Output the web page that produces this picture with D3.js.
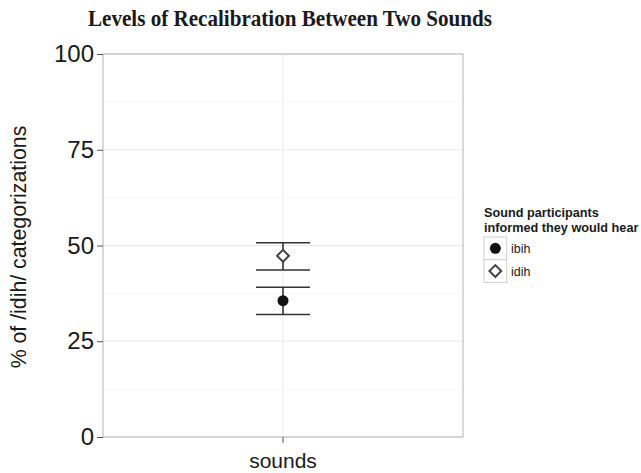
<!DOCTYPE html>
<html>
<head>
<meta charset="utf-8">
<script src="https://cdn.jsdelivr.net/npm/d3@7"></script>
<style>
  body { margin: 0; background: #fff; }
  svg { display: block; }
</style>
</head>
<body>
<script>
// DATA
var categories = ["sounds"];
var groups = ["ibih", "idih"];
var means = [35.6, 47.3];
var lower = [32.0, 43.6];
var upper = [39.1, 50.7];
var yTicks = [0, 25, 50, 75, 100];

var svg = d3.select("body").append("svg")
    .attr("width", 641)
    .attr("height", 473);

const margin = {top: 54, left: 103, right: 178, bottom: 36};
const width = 641 - margin.left - margin.right;
const height = 473 - margin.top - margin.bottom;

const x = d3.scaleBand().domain(categories).range([0, width]);
const y = d3.scaleLinear().domain([0, 100]).range([height, 0]);

const g = svg.append("g")
    .attr("transform", "translate(" + margin.left + "," + margin.top + ")");

// grid (minor then major)
const minor = [12.5, 37.5, 62.5, 87.5];
g.selectAll(".minor").data(minor).enter().append("line")
    .attr("x1", 0).attr("x2", width)
    .attr("y1", d => y(d)).attr("y2", d => y(d))
    .attr("stroke", "#f5f5f5").attr("stroke-width", 0.8);
g.selectAll(".major").data(yTicks).enter().append("line")
    .attr("x1", 0).attr("x2", width)
    .attr("y1", d => y(d)).attr("y2", d => y(d))
    .attr("stroke", "#ebebeb").attr("stroke-width", 1);
g.selectAll(".vmajor").data(categories).enter().append("line")
    .attr("x1", d => x(d) + x.bandwidth() / 2).attr("x2", d => x(d) + x.bandwidth() / 2)
    .attr("y1", 0).attr("y2", height)
    .attr("stroke", "#ebebeb").attr("stroke-width", 1);

// panel border
g.append("rect").attr("width", width).attr("height", height)
    .attr("fill", "none").attr("stroke", "#b3b3b3").attr("stroke-width", 1);

// axes
const yAxis = g.append("g").call(d3.axisLeft(y).tickValues(yTicks).tickSize(6).tickPadding(3));
yAxis.select(".domain").remove();
yAxis.selectAll("line").attr("stroke", "#555");
yAxis.selectAll("text").attr("font-family", "Liberation Sans, Arial, sans-serif")
    .attr("font-size", 24).attr("fill", "#1a1a1a");

const xAxis = g.append("g").attr("transform", "translate(0," + height + ")")
    .call(d3.axisBottom(x).tickSize(6).tickFormat(""));
xAxis.select(".domain").remove();
xAxis.selectAll("line").attr("stroke", "#555");

// error bars
const cx = x("sounds") + x.bandwidth() / 2;
const capW = 27;
groups.forEach(function(grp, i) {
  g.append("line").attr("x1", cx).attr("x2", cx)
      .attr("y1", y(lower[i])).attr("y2", y(upper[i]))
      .attr("stroke", "#333").attr("stroke-width", 1.6);
  [lower[i], upper[i]].forEach(function(v) {
    g.append("line").attr("x1", cx - capW).attr("x2", cx + capW)
        .attr("y1", y(v)).attr("y2", y(v))
        .attr("stroke", "#333").attr("stroke-width", 1.6);
  });
});

function drawSymbol(sel, grp, px, py) {
  if (grp === "ibih") {
    sel.append("circle").attr("cx", px).attr("cy", py).attr("r", 5.5).attr("fill", "#111");
  } else {
    sel.append("path")
        .attr("d", d3.symbol().type(d3.symbolSquare).size(70)())
        .attr("transform", "translate(" + px + "," + py + ") rotate(45)")
        .attr("fill", "#fff").attr("stroke", "#444").attr("stroke-width", 2);
  }
}
groups.forEach(function(grp, i) { drawSymbol(g, grp, cx, y(means[i])); });

// x label
svg.append("text").attr("x", margin.left + width / 2).attr("y", 468)
    .attr("text-anchor", "middle")
    .attr("font-family", "Liberation Sans, Arial, sans-serif").attr("font-size", 21)
    .attr("fill", "#1a1a1a").text("sounds");

// y label
svg.append("text").attr("transform", "translate(26,247) rotate(-90)")
    .attr("text-anchor", "middle")
    .attr("font-family", "Liberation Sans, Arial, sans-serif").attr("font-size", 21.3)
    .attr("fill", "#1a1a1a").text("% of /idih/ categorizations");

// title
svg.append("text").attr("x", 290).attr("y", 26).attr("text-anchor", "middle")
    .attr("font-family", "Liberation Serif, Times New Roman, serif").attr("font-weight", "bold")
    .attr("font-size", 24).attr("textLength", 404).attr("lengthAdjust", "spacingAndGlyphs")
    .attr("fill", "#1a1a1a")
    .text("Levels of Recalibration Between Two Sounds");

// legend
const lg = svg.append("g").attr("transform", "translate(484,0)");
["Sound participants", "informed they would hear"].forEach(function(t, i) {
  lg.append("text").attr("x", 0).attr("y", 217 + i * 15)
      .attr("font-family", "Liberation Sans, Arial, sans-serif").attr("font-weight", "bold")
      .attr("font-size", 12.7).attr("fill", "#1a1a1a").text(t);
});
groups.forEach(function(grp, i) {
  const ky = 237 + i * 22.7;
  lg.append("rect").attr("x", 0).attr("y", ky).attr("width", 22.7).attr("height", 22.7)
      .attr("fill", "#fff").attr("stroke", "#d0d0d0").attr("stroke-width", 1);
  drawSymbol(lg, grp, 11.35, ky + 11.35);
  lg.append("text").attr("x", 27).attr("y", ky + 16)
      .attr("font-family", "Liberation Sans, Arial, sans-serif")
      .attr("font-size", 12.5).attr("fill", "#1a1a1a").text(grp);
});
</script>
</body>
</html>
